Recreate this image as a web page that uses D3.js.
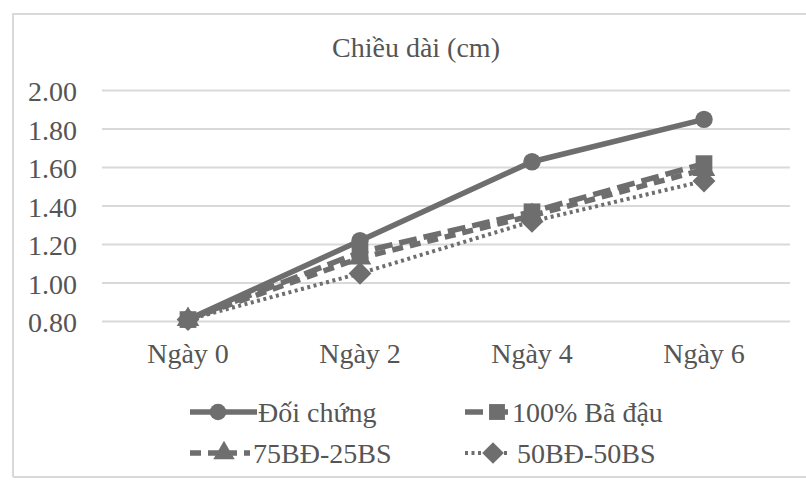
<!DOCTYPE html>
<html><head><meta charset="utf-8">
<script src="https://cdn.jsdelivr.net/npm/d3@7"></script>
<style>body{margin:0;background:#fff}svg{display:block}
svg text{font-family:"Liberation Serif","Times New Roman","DejaVu Serif",serif !important;}</style>
</head><body><svg id="c" width="806" height="483"></svg>
<script>
const categories = ["Ngày 0","Ngày 2","Ngày 4","Ngày 6"];
const seriesNames = ["Đối chứng","100% Bã đậu","75BĐ-25BS","50BĐ-50BS"];
const doiChung = [0.81,1.22,1.63,1.85];
const baDau100 = [0.81,1.16,1.37,1.62];
const bd75bs25 = [0.81,1.13,1.35,1.59];
const bd50bs50 = [0.81,1.05,1.32,1.53];
const yTicks = [0.80,1.00,1.20,1.40,1.60,1.80,2.00];
const title = "Chiều dài (cm)";

const svg = d3.select("#c");
const col = "#6e6e6e", txt = "#555555", fs = 28;
svg.append("path").attr("d","M13,477V14H810 M13,477H810").attr("fill","none").attr("stroke","#d9d9d9").attr("stroke-width",2);

const x = d3.scaleBand().domain(categories).range([102,790]);
const y = d3.scaleLinear().domain([0.8,2.0]).range([321.5,90.5]);

svg.append("text").attr("x",416).attr("y",57).attr("text-anchor","middle")
  .attr("font-size",fs).attr("fill",txt).text(title);

const g = svg.append("g");
g.selectAll("line.grid").data(yTicks).join("line").attr("class","grid")
  .attr("x1",102).attr("x2",790).attr("y1",d=>y(d)).attr("y2",d=>y(d))
  .attr("stroke","#d9d9d9").attr("stroke-width",2);

const yAxis = svg.append("g").attr("transform","translate(102,0)")
  .call(d3.axisLeft(y).tickValues(yTicks).tickFormat(d3.format(".2f")).tickSize(0).tickPadding(25));
yAxis.select(".domain").remove();
yAxis.selectAll("text").attr("font-size",fs).attr("fill",txt).attr("dy","0.36em");

const xAxis = svg.append("g").attr("transform","translate(0,331)")
  .call(d3.axisBottom(x).tickSize(0).tickPadding(12));
xAxis.select(".domain").remove();
xAxis.selectAll("text").attr("font-size",fs).attr("fill",txt);

const diamond = {draw(ctx,size){const r=Math.sqrt(size/2);ctx.moveTo(0,-r);ctx.lineTo(r,0);ctx.lineTo(0,r);ctx.lineTo(-r,0);ctx.closePath();}};
const series = [
  {name:seriesNames[0], vals:doiChung, dash:null, sym:d3.symbolCircle, size:240, w:5.5},
  {name:seriesNames[1], vals:baDau100, dash:"18,7", sym:d3.symbolSquare, size:280, w:5.5},
  {name:seriesNames[2], vals:bd75bs25, dash:"11,7", sym:d3.symbolTriangle, size:220, w:5.5},
  {name:seriesNames[3], vals:bd50bs50, dash:"3,3.5", sym:diamond, size:260, w:4}
];
const line = d3.line().x((d,i)=>x(categories[i])+x.bandwidth()/2).y(d=>y(d));
[...series].reverse().forEach(s=>{
  g.append("path").datum(s.vals).attr("d",line).attr("fill","none").attr("stroke",col)
    .attr("stroke-width",s.w).attr("stroke-dasharray",s.dash);
  g.selectAll(null).data(s.vals).join("path")
    .attr("transform",(d,i)=>`translate(${x(categories[i])+x.bandwidth()/2},${y(d)})`)
    .attr("d",d3.symbol(s.sym,s.size)).attr("fill",col);
});

const leg = [
  {s:series[0], lx:190, len:67, mx:218, tx:258, ly:412},
  {s:series[1], lx:465, len:50, mx:497, tx:512, ly:412},
  {s:series[2], lx:190, len:60, mx:224, tx:253, ly:453},
  {s:series[3], lx:465, len:45, mx:493, tx:517, ly:453}
];
leg.forEach(o=>{
  const gg = svg.append("g");
  gg.append("line").attr("x1",o.lx).attr("x2",o.lx+o.len).attr("y1",o.ly).attr("y2",o.ly)
    .attr("stroke",col).attr("stroke-width",o.s.w).attr("stroke-dasharray",o.s.dash);
  gg.append("path").attr("transform",`translate(${o.mx},${o.ly})`)
    .attr("d",d3.symbol(o.s.sym,o.s.size*0.9)).attr("fill",col);
  gg.append("text").attr("x",o.tx).attr("y",o.ly+10)
    .attr("font-size",fs).attr("fill",txt).text(o.s.name);
});
</script></body></html>
